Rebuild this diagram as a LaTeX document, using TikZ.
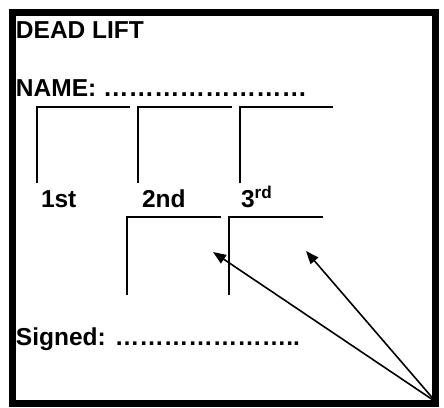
\documentclass[tikz,border=0pt]{standalone}
\usepackage{fontspec}
\setmainfont{Liberation Sans}
\usetikzlibrary{arrows.meta}
\newcommand{\fourdots}{…………}
\begin{document}
\begin{tikzpicture}[x=1pt,y=-1pt,
  frame/.style={line width=7pt},
  slot/.style={line width=2.4pt},
  pointer/.style={line width=1.6pt,-{Triangle[length=13pt,width=10pt]}},
  lbl/.style={anchor=base west,inner sep=0pt,outer sep=0pt,font=\bfseries\fontsize{24.5}{26}\selectfont}
]
\useasboundingbox (0,0) rectangle (444,407);
\draw[frame] (12,12) rectangle (435,403);
\node[lbl] (title) at (16,38.3) {DEAD LIFT};
\node[lbl] (name) at (16,96.5) {NAME: {\fontsize{25.5}{26}\selectfont\fourdots\fourdots}};
\node[lbl] (first) at (41,207.7) {1st};
\node[lbl] (second) at (142,207.7) {2nd};
\node[lbl] (third) at (241,207.7) {3\textsuperscript{rd}};
\node[lbl] (signed) at (16,345.7) {Signed: \fourdots………..};
% top row boxes
\draw[slot] (37,183) |- (130,107);
\draw[slot] (138,183) |- (232,107);
\draw[slot] (240,183) |- (333,107);
% second row boxes
\draw[slot] (127,295) |- (221,217);
\draw[slot] (229,295) |- (323,217);
% arrows
\coordinate (src) at (436,402);
\coordinate (tipA) at (213,252);
\coordinate (tipB) at (306,251);
\draw[pointer] (src) -- (tipA);
\draw[pointer] (src) -- (tipB);
\end{tikzpicture}
\end{document}
